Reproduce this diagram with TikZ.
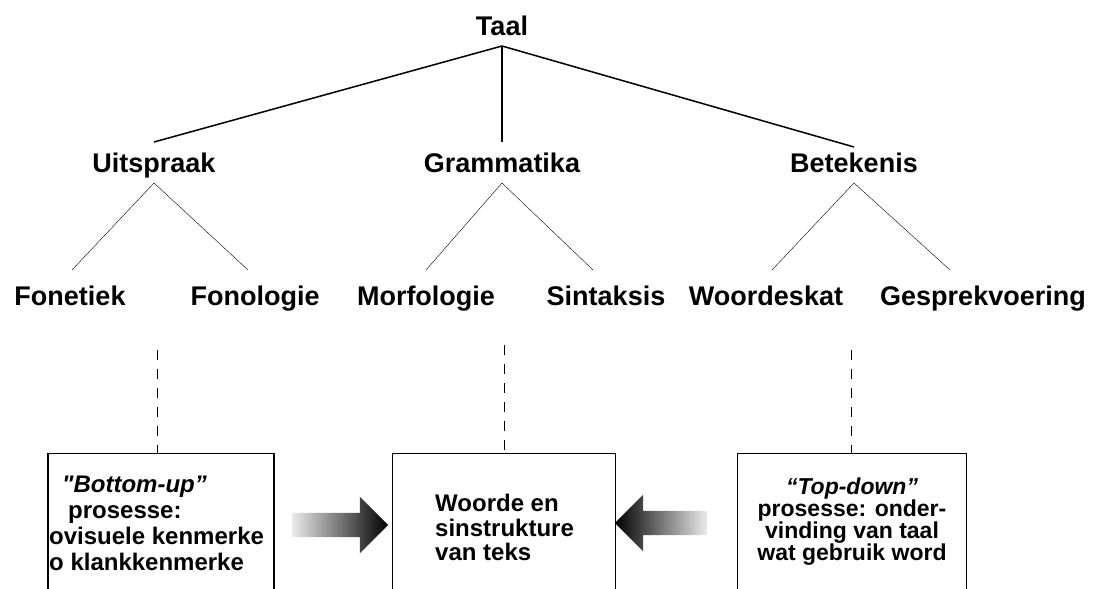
\documentclass[tikz,border=0pt]{standalone}
\usepackage{fontspec}
\setmainfont{Liberation Sans}
\usetikzlibrary{shapes.arrows}
\tikzset{
  lbl/.style={font=\fontsize{27}{30}\selectfont\bfseries, inner sep=0pt, text height=19pt, text depth=0pt, anchor=base, outer ysep=11pt},
  leaf/.style={lbl, outer ysep=16pt},
  box/.style={draw, line width=1.2pt, minimum height=170pt, anchor=north},
  boxtext/.style={font=\fontsize{24}{26}\selectfont\bfseries, inner sep=0pt},
  fatarrow/.style={single arrow, minimum height=96pt, inner xsep=0pt, inner ysep=12pt, single arrow head extend=16pt},
}
\begin{document}
\begin{tikzpicture}[x=1pt, y=-1pt]
\useasboundingbox (0,0) rectangle (1098,589);
\clip (0,0) rectangle (1098,589);
% nodes
\node[lbl] (taal) at (502,35) {Taal};
\node[lbl] (uit) at (154,172) {Uitspraak};
\node[lbl] (gram) at (502,172) {Grammatika};
\node[lbl] (bet) at (854,172) {Betekenis};
\node[leaf] (fonet) at (70,305) {Fonetiek};
\node[leaf] (fonol) at (255,305) {Fonologie};
\node[leaf] (morf) at (426,305) {Morfologie};
\node[leaf] (sint) at (606,305) {Sintaksis};
\node[leaf] (woord) at (766,305) {Woordeskat};
\node[leaf] (gesp) at (983,305) {Gesprekvoering};
% boxes
\node[box, minimum width=226pt] (bx1) at (161,453) {};
\node[box, minimum width=223pt] (bx2) at (504,453) {};
\node[box, minimum width=229pt] (bx3) at (852,453) {};
\node[boxtext, align=left, anchor=north west] (t1) at (49,476) {\hspace*{13pt}\textit{\textquotedbl Bottom-up”}\\\hspace*{19pt}prosesse:\\ovisuele kenmerke\\o klankkenmerke};
\node[boxtext, align=left, anchor=north west, font=\fontsize{24}{24.5}\selectfont\bfseries] (t2) at (435,494) {Woorde en\\sinstrukture\\van teks};
\node[boxtext, align=center, anchor=north, font=\fontsize{23}{22}\selectfont\bfseries] (t3) at (852,478) {\textit{“Top-down”}\\prosesse: onder-\\vinding van taal\\wat gebruik word};
\node[fatarrow, left color=black!8, right color=black] (a1) at (334,525) {};
\node[fatarrow, minimum height=92pt, shape border rotate=180, left color=black, right color=black!8] (a2) at (667,523) {};
\coordinate (d1) at (157,350);
\coordinate (d2) at (504,345);
\coordinate (d3) at (851,350);
% lines
\draw[line width=1.5pt] (taal.south) -- (uit.north);
\draw[line width=1.5pt] (taal.south) -- (gram.north);
\draw[line width=1.5pt] (taal.south) -- ([yshift=-5pt]bet.north);
\draw (uit.south) -- ([xshift=2pt]fonet.north);
\draw (uit.south) -- ([xshift=-7pt]fonol.north);
\draw (gram.south) -- (morf.north);
\draw (gram.south) -- ([xshift=-13pt]sint.north);
\draw (bet.south) -- ([xshift=6pt]woord.north);
\draw (bet.south) -- ([xshift=-33pt]gesp.north);
\draw[dash pattern=on 10pt off 9pt] (d1) -- (d1 |- bx1.north);
\draw[dash pattern=on 10pt off 9pt] (d2) -- (d2 |- bx2.north);
\draw[dash pattern=on 10pt off 9pt] (d3) -- (d3 |- bx3.north);
\end{tikzpicture}
\end{document}
